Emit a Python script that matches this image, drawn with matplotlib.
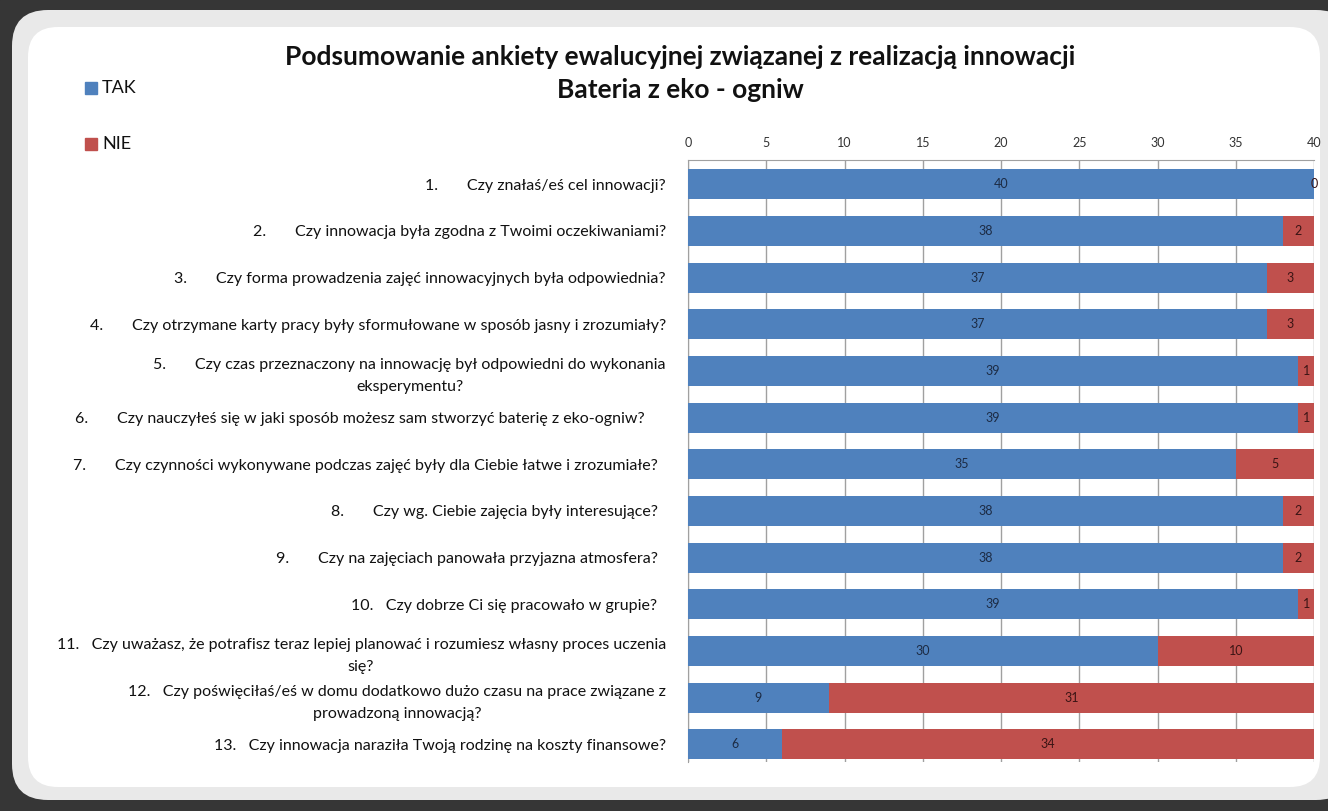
import matplotlib.pyplot as plt
from matplotlib.patches import FancyBboxPatch, Rectangle

plt.rcParams['font.family'] = ['Lato', 'DejaVu Sans']

pytania = [
    "1.       Czy znałaś/eś cel innowacji?",
    "2.       Czy innowacja była zgodna z Twoimi oczekiwaniami?",
    "3.       Czy forma prowadzenia zajęć innowacyjnych była odpowiednia?",
    "4.       Czy otrzymane karty pracy były sformułowane w sposób jasny i zrozumiały?",
    "5.       Czy czas przeznaczony na innowację był odpowiedni do wykonania\neksperymentu?",
    "6.       Czy nauczyłeś się w jaki sposób możesz sam stworzyć baterię z eko-ogniw?     ",
    "7.       Czy czynności wykonywane podczas zajęć były dla Ciebie łatwe i zrozumiałe?  ",
    "8.       Czy wg. Ciebie zajęcia były interesujące?  ",
    "9.       Czy na zajęciach panowała przyjazna atmosfera?  ",
    "10.   Czy dobrze Ci się pracowało w grupie?  ",
    "11.   Czy uważasz, że potrafisz teraz lepiej planować i rozumiesz własny proces uczenia\nsię?",
    "12.   Czy poświęciłaś/eś w domu dodatkowo dużo czasu na prace związane z\nprowadzoną innowacją?",
    "13.   Czy innowacja naraziła Twoją rodzinę na koszty finansowe?",
]
tak = [40, 38, 37, 37, 39, 39, 35, 38, 38, 39, 30, 9, 6]
nie = [0, 2, 3, 3, 1, 1, 5, 2, 2, 1, 10, 31, 34]
x_ticks = [0, 5, 10, 15, 20, 25, 30, 35, 40]

W, H = 1328, 811
fig = plt.figure(figsize=(W / 100, H / 100), dpi=100)
fig.patch.set_facecolor('#333333')

# tlo: ciemne + zaokraglona ramka
bg = fig.add_axes([0, 0, 1, 1])
bg.set_xlim(0, W)
bg.set_ylim(H, 0)
bg.axis('off')
bg.add_patch(Rectangle((0, 0), W, H, color='#363636', zorder=0))
bg.add_patch(FancyBboxPatch((12, 10), 1340, 790, boxstyle='round,pad=0,rounding_size=36',
                            fc='#e9e9e9', ec='none', zorder=1))
bg.add_patch(FancyBboxPatch((28, 27), 1292, 760, boxstyle='round,pad=0,rounding_size=30',
                            fc='white', ec='none', zorder=2))

# tytul
fig.text(680 / W, 1 - 57 / H, 'Podsumowanie ankiety ewalucyjnej związanej z realizacją innowacji',
         ha='center', va='center', fontsize=19, fontweight='bold', color='#111111')
fig.text(680 / W, 1 - 90 / H, 'Bateria z eko - ogniw',
         ha='center', va='center', fontsize=19, fontweight='bold', color='#111111')

# legenda
for i, (nazwa, kolor) in enumerate([('TAK', '#4F81BD'), ('NIE', '#C0504D')]):
    yy = 88 + i * 56
    bg.add_patch(Rectangle((85, yy - 6), 12, 12, color=kolor, zorder=3))
    bg.text(102, yy, nazwa, va='center', ha='left', fontsize=13, color='#111111', zorder=3)

ax = fig.add_axes([688 / W, 1 - 762 / H, (1314 - 688) / W, (762 - 160) / H])
ax.set_facecolor('none')
y = list(range(len(pytania)))
b1 = ax.barh(y, tak, height=0.64, color='#4F81BD', zorder=3)
b2 = ax.barh(y, nie, left=tak, height=0.64, color='#C0504D', zorder=3)
ax.bar_label(b1, label_type='center', fontsize=9, color='#1c2b44', zorder=4)
ax.bar_label(b2, label_type='center', fontsize=9, color='#3a1414', zorder=4)

ax.set_xlim(0, 40)
ax.set_ylim(len(pytania) - 0.62, -0.52)
ax.set_xticks(x_ticks)
ax.xaxis.tick_top()
ax.tick_params(axis='x', length=0, pad=8, labelsize=9, labelcolor='#333333')
ax.set_yticks(y)
ax.set_yticklabels(pytania, multialignment='center', fontsize=11.5, color='#111111',
                   linespacing=1.7)
ax.tick_params(axis='y', length=0, pad=16)
ax.grid(axis='x', color='#a0a0a0', linewidth=1, zorder=0)
for s in ['right', 'bottom']:
    ax.spines[s].set_visible(False)
ax.spines['left'].set_color('#a0a0a0')
ax.spines['top'].set_color('#a0a0a0')

fig.savefig('out.png', dpi=100, facecolor=fig.get_facecolor())
